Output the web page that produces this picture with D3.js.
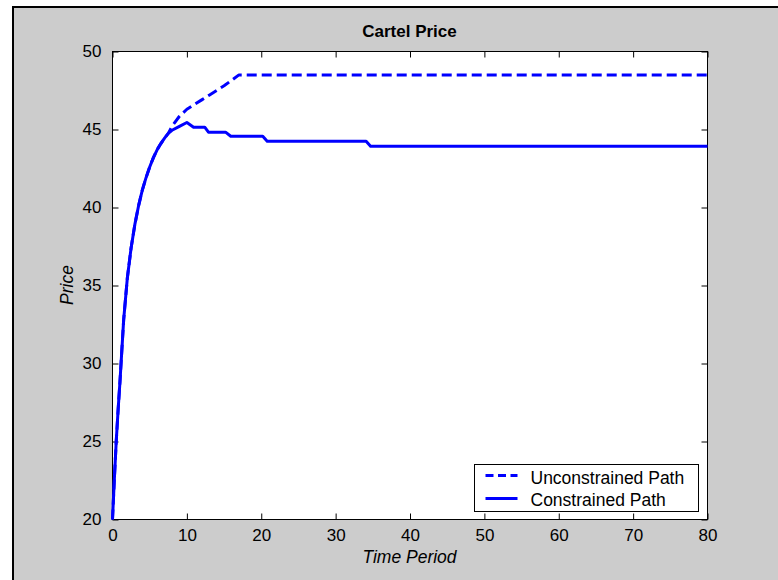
<!DOCTYPE html>
<html>
<head>
<meta charset="utf-8">
<script src="https://cdn.jsdelivr.net/npm/d3@7"></script>
<style>
  html, body { margin: 0; padding: 0; background: #fff; }
  svg { display: block; font-family: "Liberation Sans", Arial, Helvetica, sans-serif; }
</style>
</head>
<body>
<svg id="chart" width="778" height="580"></svg>
<script>
// Time periods and cartel prices for the two paths
const unconstrainedPeriods = [0, 0.25, 0.5, 0.75, 1, 1.5, 2, 2.5, 3, 3.5, 4, 4.5, 5, 5.5, 6, 6.5, 7, 7.5,
  8, 9, 10, 11, 12, 13, 14, 15, 16, 17, 80];
const unconstrainedPrice = [20, 22.6, 25.0, 27.0, 28.8, 32.8, 35.5, 37.4, 38.9, 40.1, 41.1, 41.9, 42.6, 43.2, 43.7, 44.1, 44.45, 44.75,
  45.2, 45.85, 46.3, 46.6, 46.9, 47.2, 47.5, 47.8, 48.15, 48.5, 48.5];

const constrainedPeriods = [0, 0.25, 0.5, 0.75, 1, 1.5, 2, 2.5, 3, 3.5, 4, 4.5, 5, 5.5, 6, 6.5, 7, 7.5,
  8, 9, 10, 10.9, 12.4, 12.9, 15.2, 15.9, 20.2, 20.8, 34.1, 34.7, 80];
const constrainedPrice = [20, 22.6, 25.0, 27.0, 28.8, 32.8, 35.5, 37.4, 38.9, 40.1, 41.1, 41.9, 42.6, 43.2, 43.7, 44.1, 44.45, 44.75,
  44.95, 45.2, 45.45, 45.15, 45.15, 44.83, 44.83, 44.57, 44.57, 44.25, 44.25, 43.93, 43.93];

const xTicks = [0, 10, 20, 30, 40, 50, 60, 70, 80];
const yTicks = [20, 25, 30, 35, 40, 45, 50];
const seriesNames = ["Unconstrained Path", "Constrained Path"];

const svg = d3.select("#chart");

// figure background with frame
svg.append("rect").attr("x", 0).attr("y", 0).attr("width", 778).attr("height", 580).attr("fill", "#fff");
svg.append("rect").attr("x", 13).attr("y", 7).attr("width", 790).attr("height", 600)
  .attr("fill", "#cccccc").attr("stroke", "#000").attr("stroke-width", 2);

const axLeft = 112, axRight = 707, axTop = 51, axBottom = 519;
const x = d3.scaleLinear().domain([0, 80]).range([axLeft, axRight]);
const y = d3.scaleLinear().domain([20, 50]).range([axBottom, axTop]);

const g = svg.append("g").attr("transform", "translate(0.5,0.5)");

// axes box
g.append("rect").attr("x", axLeft).attr("y", axTop).attr("width", axRight - axLeft).attr("height", axBottom - axTop)
  .attr("fill", "#fff").attr("stroke", "#000").attr("stroke-width", 1);

const tickFont = 17;
function styleAxis(sel) {
  sel.select(".domain").remove();
  sel.selectAll(".tick line").attr("stroke", "#000");
  sel.selectAll(".tick text").attr("fill", "#000").attr("font-size", tickFont);
}

g.append("g").attr("transform", `translate(0,${axBottom})`)
  .call(d3.axisBottom(x).tickValues(xTicks).tickFormat(d3.format("d")).tickSizeInner(-6).tickSizeOuter(0).tickPadding(9))
  .call(styleAxis);
g.append("g").attr("transform", `translate(0,${axTop})`)
  .call(d3.axisTop(x).tickValues(xTicks).tickFormat("").tickSizeInner(-6).tickSizeOuter(0))
  .call(styleAxis);
g.append("g").attr("transform", `translate(${axLeft},0)`)
  .call(d3.axisLeft(y).tickValues(yTicks).tickFormat(d3.format("d")).tickSizeInner(-6).tickSizeOuter(0).tickPadding(11))
  .call(styleAxis);
g.append("g").attr("transform", `translate(${axRight},0)`)
  .call(d3.axisRight(y).tickValues(yTicks).tickFormat("").tickSizeInner(-6).tickSizeOuter(0))
  .call(styleAxis);

// price paths
const clip = svg.append("clipPath").attr("id", "plotClip");
clip.append("rect").attr("x", axLeft - 2).attr("y", axTop - 2).attr("width", axRight - axLeft + 4).attr("height", axBottom - axTop + 4);

const line = d3.line().x(d => x(d[0])).y(d => y(d[1]));
const plot = g.append("g").attr("clip-path", "url(#plotClip)");

plot.append("path")
  .datum(d3.zip(unconstrainedPeriods, unconstrainedPrice))
  .attr("d", line).attr("fill", "none").attr("stroke", "#0000ff")
  .attr("stroke-width", 3).attr("stroke-dasharray", "10,5").attr("stroke-linejoin", "round");

plot.append("path")
  .datum(d3.zip(constrainedPeriods, constrainedPrice))
  .attr("d", line).attr("fill", "none").attr("stroke", "#0000ff")
  .attr("stroke-width", 3).attr("stroke-linejoin", "round");

// legend
const legend = g.append("g");
legend.append("rect").attr("x", 474).attr("y", 464).attr("width", 224).attr("height", 47)
  .attr("fill", "#fff").attr("stroke", "#000");
const rows = [{ name: seriesNames[0], dash: "8,4.5", ly: 475, ty: 483 },
              { name: seriesNames[1], dash: null, ly: 498, ty: 505 }];
rows.forEach(r => {
  legend.append("line").attr("x1", 485).attr("x2", 517).attr("y1", r.ly).attr("y2", r.ly)
    .attr("stroke", "#0000ff").attr("stroke-width", 3).attr("stroke-dasharray", r.dash);
  legend.append("text").attr("x", 530).attr("y", r.ty).attr("font-size", 17.5).attr("fill", "#000").text(r.name);
});

// title and axis labels
svg.append("text").attr("x", (axLeft + axRight) / 2).attr("y", 37).attr("text-anchor", "middle")
  .attr("font-size", 17).attr("font-weight", "bold").attr("fill", "#000").text("Cartel Price");
svg.append("text").attr("x", (axLeft + axRight) / 2).attr("y", 563).attr("text-anchor", "middle")
  .attr("font-size", 17.5).attr("font-style", "italic").attr("fill", "#000").text("Time Period");
svg.append("text").attr("transform", `translate(73,${(axTop + axBottom) / 2}) rotate(-90)`).attr("text-anchor", "middle")
  .attr("font-size", 17.5).attr("font-style", "italic").attr("fill", "#000").text("Price");
</script>
</body>
</html>
